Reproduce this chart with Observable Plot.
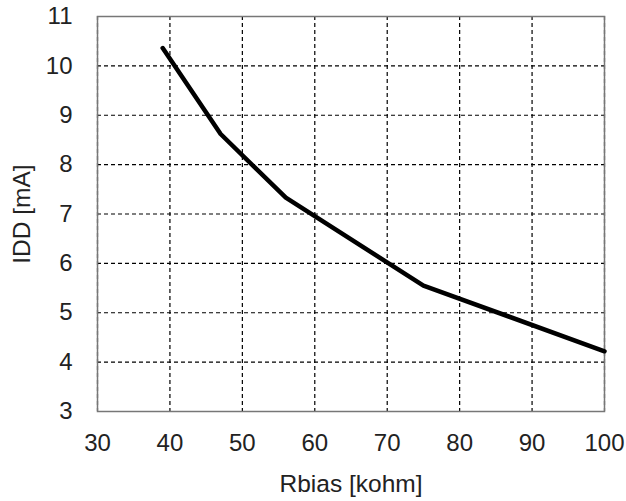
<!DOCTYPE html>
<html>
<head>
<meta charset="utf-8">
<script src="https://cdn.jsdelivr.net/npm/d3@7"></script>
<script src="https://cdn.jsdelivr.net/npm/@observablehq/plot@0.6"></script>
<style>
  html, body { margin: 0; padding: 0; background: #fff; }
  #chart svg { display: block; }
</style>
</head>
<body>
<div id="chart"></div>
<script>
const rbias = [39, 47, 56, 75, 100];
const idd = [10.36, 8.62, 7.33, 5.55, 4.22];
const xTicks = [30, 40, 50, 60, 70, 80, 90, 100];
const yTicks = [3, 4, 5, 6, 7, 8, 9, 10, 11];
const xLabel = "Rbias [kohm]";
const yLabel = "IDD [mA]";

const data = rbias.map((r, i) => ({ r, i: idd[i] }));

const chart = Plot.plot({
  width: 626,
  height: 501,
  marginLeft: 97,
  marginRight: 22,
  marginTop: 16,
  marginBottom: 90,
  style: { fontFamily: "'Liberation Sans', Arial, sans-serif", fontSize: "24px", color: "#222", background: "#fff" },
  x: { domain: [30, 100] },
  y: { domain: [3, 11] },
  marks: [
    Plot.gridX(xTicks, { stroke: "#000", strokeOpacity: 1, strokeWidth: 1.2, strokeDasharray: "4,3" }),
    Plot.gridY(yTicks, { stroke: "#000", strokeOpacity: 1, strokeWidth: 1.2, strokeDasharray: "4,3" }),
    Plot.frame({ stroke: "#777", strokeWidth: 1.5 }),
    Plot.axisX(xTicks, { tickSize: 0, tickPadding: 22, fontSize: 24, label: null }),
    Plot.axisY(yTicks, { tickSize: 0, tickPadding: 25, fontSize: 24, label: null }),
    Plot.text([xLabel], { frameAnchor: "bottom", dy: 73, lineAnchor: "middle", textAnchor: "middle", fontSize: 24.5, fill: "#222" }),
    Plot.text([yLabel], { frameAnchor: "left", dx: -75, rotate: -90, lineAnchor: "middle", textAnchor: "middle", fontSize: 24.5, fill: "#222" }),
    Plot.line(data, { x: "r", y: "i", stroke: "#000", strokeWidth: 4.5, strokeLinejoin: "round" })
  ]
});
document.getElementById("chart").appendChild(chart);
</script>
</body>
</html>
